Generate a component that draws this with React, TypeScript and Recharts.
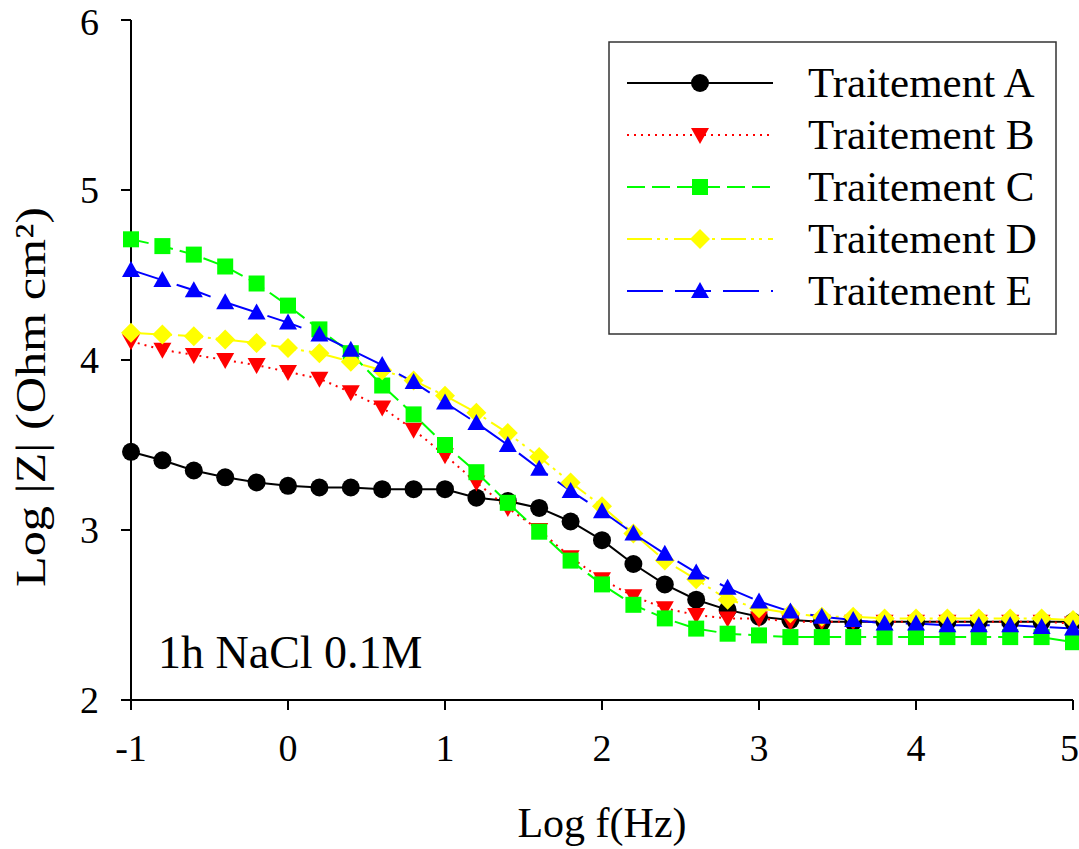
import { LineChart, Line, XAxis, YAxis, Legend, Label } from "recharts";

const SERIF = "'Liberation Serif', 'Times New Roman', serif";

const logFreq = [
  -1, -0.8, -0.6, -0.4, -0.2, 0, 0.2, 0.4, 0.6, 0.8, 1, 1.2, 1.4, 1.6, 1.8, 2,
  2.2, 2.4, 2.6, 2.8, 3, 3.2, 3.4, 3.6, 3.8, 4, 4.2, 4.4, 4.6, 4.8, 5,
];

const traitementA = [
  3.46, 3.41, 3.35, 3.31, 3.28, 3.26, 3.25, 3.25, 3.24, 3.24, 3.24, 3.19, 3.17,
  3.13, 3.05, 2.94, 2.8, 2.68, 2.59, 2.53, 2.49, 2.47, 2.46, 2.46, 2.46, 2.46,
  2.46, 2.46, 2.46, 2.46, 2.46,
];
const traitementB = [
  4.11, 4.06, 4.03, 4.0, 3.97, 3.93, 3.89, 3.81, 3.72, 3.59, 3.44, 3.28, 3.13,
  3.0, 2.84, 2.71, 2.61, 2.54, 2.5, 2.48, 2.48, 2.46, 2.46, 2.46, 2.46, 2.46,
  2.46, 2.46, 2.46, 2.46, 2.45,
];
const traitementC = [
  4.71, 4.67, 4.62, 4.55, 4.45, 4.32, 4.18, 4.04, 3.85, 3.68, 3.5, 3.34, 3.16,
  2.99, 2.82, 2.68, 2.56, 2.48, 2.42, 2.39, 2.38, 2.37, 2.37, 2.37, 2.37, 2.37,
  2.37, 2.37, 2.37, 2.37, 2.34,
];
const traitementD = [
  4.16, 4.15, 4.14, 4.12, 4.1, 4.07, 4.04, 3.99, 3.94, 3.88, 3.79, 3.69, 3.57,
  3.43, 3.28, 3.14, 2.98, 2.82, 2.71, 2.59, 2.54, 2.51, 2.49, 2.49, 2.48, 2.48,
  2.48, 2.48, 2.48, 2.48, 2.47,
];
const traitementE = [
  4.53, 4.47, 4.41, 4.34, 4.28, 4.22, 4.15, 4.06, 3.97, 3.87, 3.75, 3.63, 3.5,
  3.36, 3.23, 3.11, 2.98, 2.86, 2.75, 2.66, 2.58, 2.52, 2.49, 2.47, 2.45, 2.45,
  2.44, 2.44, 2.44, 2.43, 2.42,
];

const xTicks = [-1, 0, 1, 2, 3, 4, 5];
const yTicks = [2, 3, 4, 5, 6];

type Shape = "circle" | "down" | "square" | "diamond" | "up";

const series: {
  key: string;
  name: string;
  values: number[];
  color: string;
  dash?: string;
  shape: Shape;
}[] = [
  { key: "A", name: "Traitement A", values: traitementA, color: "#000000", shape: "circle" },
  { key: "B", name: "Traitement B", values: traitementB, color: "#ff0000", dash: "2 5", shape: "down" },
  { key: "C", name: "Traitement C", values: traitementC, color: "#00ff00", dash: "18 7", shape: "square" },
  { key: "D", name: "Traitement D", values: traitementD, color: "#ffff00", dash: "25 5 3 5 3 6", shape: "diamond" },
  { key: "E", name: "Traitement E", values: traitementE, color: "#0000ff", dash: "36 12", shape: "up" },
];

const data = logFreq.map((f, i) => {
  const row: Record<string, number> = { f };
  series.forEach((s) => (row[s.key] = s.values[i]));
  return row;
});

function Marker({ cx, cy, shape, color }: { cx: number; cy: number; shape: Shape; color: string }) {
  if (cx == null || cy == null) return null;
  switch (shape) {
    case "circle":
      return <circle cx={cx} cy={cy} r={9} fill={color} />;
    case "square":
      return <rect x={cx - 8} y={cy - 8} width={16} height={16} fill={color} />;
    case "diamond":
      return <polygon points={`${cx},${cy - 10} ${cx + 10},${cy} ${cx},${cy + 10} ${cx - 10},${cy}`} fill={color} />;
    case "down":
      return <polygon points={`${cx - 9},${cy - 7} ${cx + 9},${cy - 7} ${cx},${cy + 9}`} fill={color} />;
    case "up":
      return <polygon points={`${cx - 9},${cy + 7} ${cx + 9},${cy + 7} ${cx},${cy - 9}`} fill={color} />;
  }
  return null;
}

function LegendBox() {
  return (
    <svg width={450} height={295}>
      <rect x={1} y={1} width={447} height={292} fill="#fff" stroke="#333" strokeWidth={1.5} />
      {series.map((s, i) => {
        const y = 42 + i * 52;
        return (
          <g key={s.key}>
            <line x1={19} x2={165} y1={y} y2={y} stroke={s.color} strokeWidth={2} strokeDasharray={s.dash} />
            <Marker cx={92} cy={y} shape={s.shape} color={s.color} />
            <text x={200} y={y + 14} fontFamily={SERIF} fontSize={43} fill="#000">
              {s.name}
            </text>
          </g>
        );
      })}
    </svg>
  );
}

const tickStyle = { fontSize: 38, fill: "#000", fontFamily: SERIF };
const lineStyle = { stroke: "#000", strokeWidth: 2 };

export default function App() {
  return (
    <div style={{ position: "absolute", left: 0, top: 0, background: "#fff" }}>
      <LineChart
        width={1079}
        height={849}
        data={data}
        margin={{ top: 20, right: 6, bottom: 0, left: 0 }}
      >
        <XAxis
          dataKey="f"
          type="number"
          domain={[-1, 5]}
          ticks={xTicks}
          height={149}
          tickSize={10}
          tickMargin={24}
          tick={tickStyle}
          axisLine={lineStyle}
          tickLine={lineStyle}
        >
          <Label
            content={({ viewBox }: any) => (
              <text
                x={viewBox.x + viewBox.width / 2}
                y={viewBox.y + 137}
                textAnchor="middle"
                fontFamily={SERIF}
                fontSize={42}
                fill="#000"
              >
                Log f(Hz)
              </text>
            )}
          />
        </XAxis>
        <XAxis
          xAxisId="top"
          orientation="top"
          type="number"
          domain={[-1, 5]}
          height={0}
          tick={false}
          tickLine={false}
          axisLine={lineStyle}
        />
        <YAxis
          type="number"
          domain={[2, 6]}
          ticks={yTicks}
          width={131}
          tickSize={10}
          tickMargin={22}
          tick={tickStyle}
          axisLine={lineStyle}
          tickLine={lineStyle}
        >
          <Label
            content={() => (
              <text
                x={45}
                y={397}
                transform="rotate(-90, 45, 397)"
                textAnchor="middle"
                fontFamily={SERIF}
                fontSize={42}
                textLength={380}
                lengthAdjust="spacingAndGlyphs"
                fill="#000"
              >
                Log |Z| (Ohm cm²)
              </text>
            )}
          />
        </YAxis>
        <YAxis
          yAxisId="right"
          orientation="right"
          type="number"
          domain={[2, 6]}
          width={0}
          tick={false}
          tickLine={false}
          axisLine={lineStyle}
        />
        <Legend
          layout="horizontal"
          verticalAlign="middle"
          align="center"
          wrapperStyle={{ left: 608, top: 41, width: 450, height: 295 }}
          content={() => <LegendBox />}
        />
        {series.map((s) => (
          <Line
            key={s.key}
            dataKey={s.key}
            name={s.name}
            type="linear"
            stroke={s.color}
            strokeWidth={2}
            strokeDasharray={s.dash}
            isAnimationActive={false}
            activeDot={false}
            dot={(p: any) => (
              <Marker key={`${s.key}-${p.index}`} cx={p.cx} cy={p.cy} shape={s.shape} color={s.color} />
            )}
          />
        ))}
        <text x={158} y={668} fontFamily={SERIF} fontSize={46} fill="#000">
          1h NaCl 0.1M
        </text>
      </LineChart>
    </div>
  );
}
